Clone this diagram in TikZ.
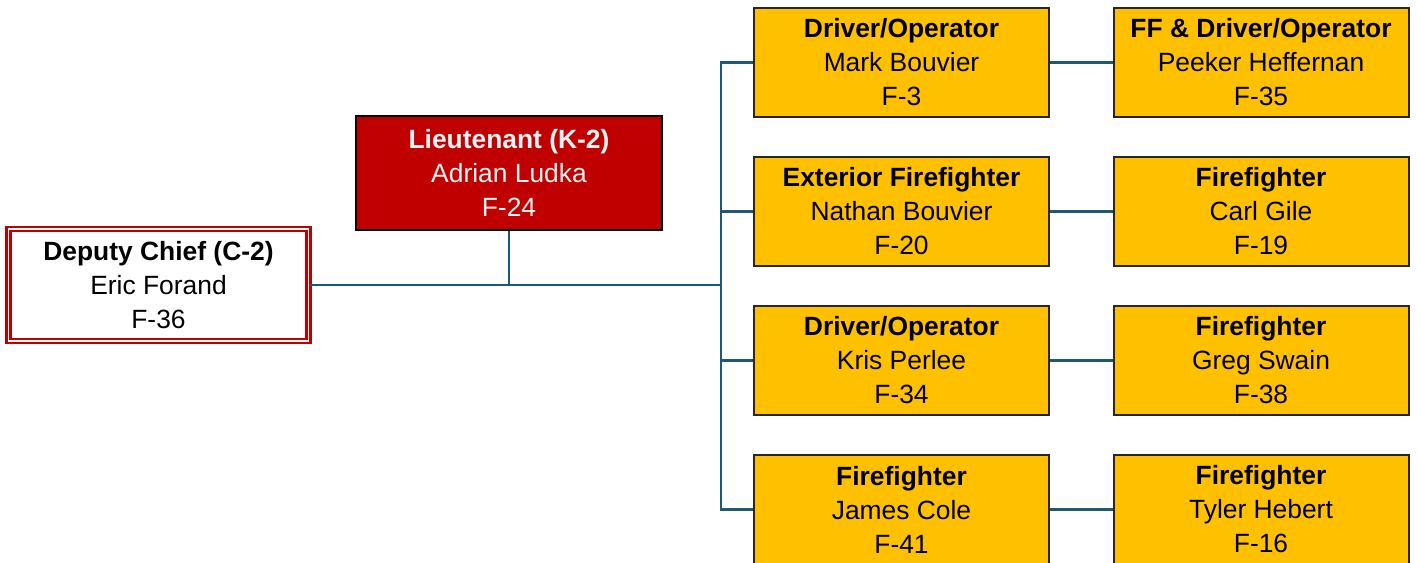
\documentclass[tikz,border=0pt]{standalone}
\usepackage{fontspec}
\setmainfont{Liberation Sans}
\definecolor{conn}{HTML}{1F5873}
\definecolor{gold}{HTML}{FFC000}
\definecolor{dred}{HTML}{C00000}
\definecolor{ltxt}{HTML}{F2F2F2}
\begin{document}
\begin{tikzpicture}[x=0.5pt,y=-0.5pt,
  box/.style={rectangle, align=center, inner sep=0pt, font={\fontsize{13.2}{17}\selectfont}},
  staff/.style={box, fill=gold, draw=black!85, line width=1pt, minimum width=147.5pt, minimum height=54.5pt},
  lt/.style={box, fill=dred, draw=black, line width=1.4pt, text=ltxt, minimum width=153pt, minimum height=57pt},
  dc/.style={box, fill=white, draw=dred, line width=1.4pt, double=white, double distance=0.6pt, minimum width=150pt, minimum height=56pt},
  link/.style={draw=conn, line width=1.2pt}]
\useasboundingbox (0,0) rectangle (1418,562);
\node[dc] (dc) at (158.5,285) {\textbf{Deputy Chief (C-2)}\\Eric Forand\\F-36};
\node[lt] (lt) at (509,173) {\textbf{Lieutenant (K-2)}\\Adrian Ludka\\F-24};
\node[staff] (a1) at (901.5,62.5) {\textbf{Driver/Operator}\\Mark Bouvier\\F-3};
\node[staff] (a2) at (901.5,211.5) {\textbf{Exterior Firefighter}\\Nathan Bouvier\\F-20};
\node[staff] (a3) at (901.5,360.5) {\textbf{Driver/Operator}\\Kris Perlee\\F-34};
\node[staff] (a4) at (901.5,509.5) {\textbf{Firefighter}\\James Cole\\F-41};
\node[staff] (b1) at (1261,62.5) {\textbf{FF \& Driver/Operator}\\Peeker Heffernan\\F-35};
\node[staff] (b2) at (1261,211.5) {\textbf{Firefighter}\\Carl Gile\\F-19};
\node[staff] (b3) at (1261,360.5) {\textbf{Firefighter}\\Greg Swain\\F-38};
\node[staff] (b4) at (1261,509.5) {\textbf{Firefighter}\\Tyler Hebert\\F-16};
\coordinate (bus) at (721,285);
\coordinate (ltj) at (lt.south |- bus);
\path[link] (dc.east) -- (bus);
\path[link] (lt.south) -- (ltj);
\path[link] (a1.west) -| (bus);
\path[link] (a4.west) -| (bus);
\path[link] (a2.west) -- (a2.west -| bus);
\path[link] (a3.west) -- (a3.west -| bus);
\path[link] (a1) -- (b1);
\path[link] (a2) -- (b2);
\path[link] (a3) -- (b3);
\path[link] (a4) -- (b4);
\end{tikzpicture}
\end{document}
